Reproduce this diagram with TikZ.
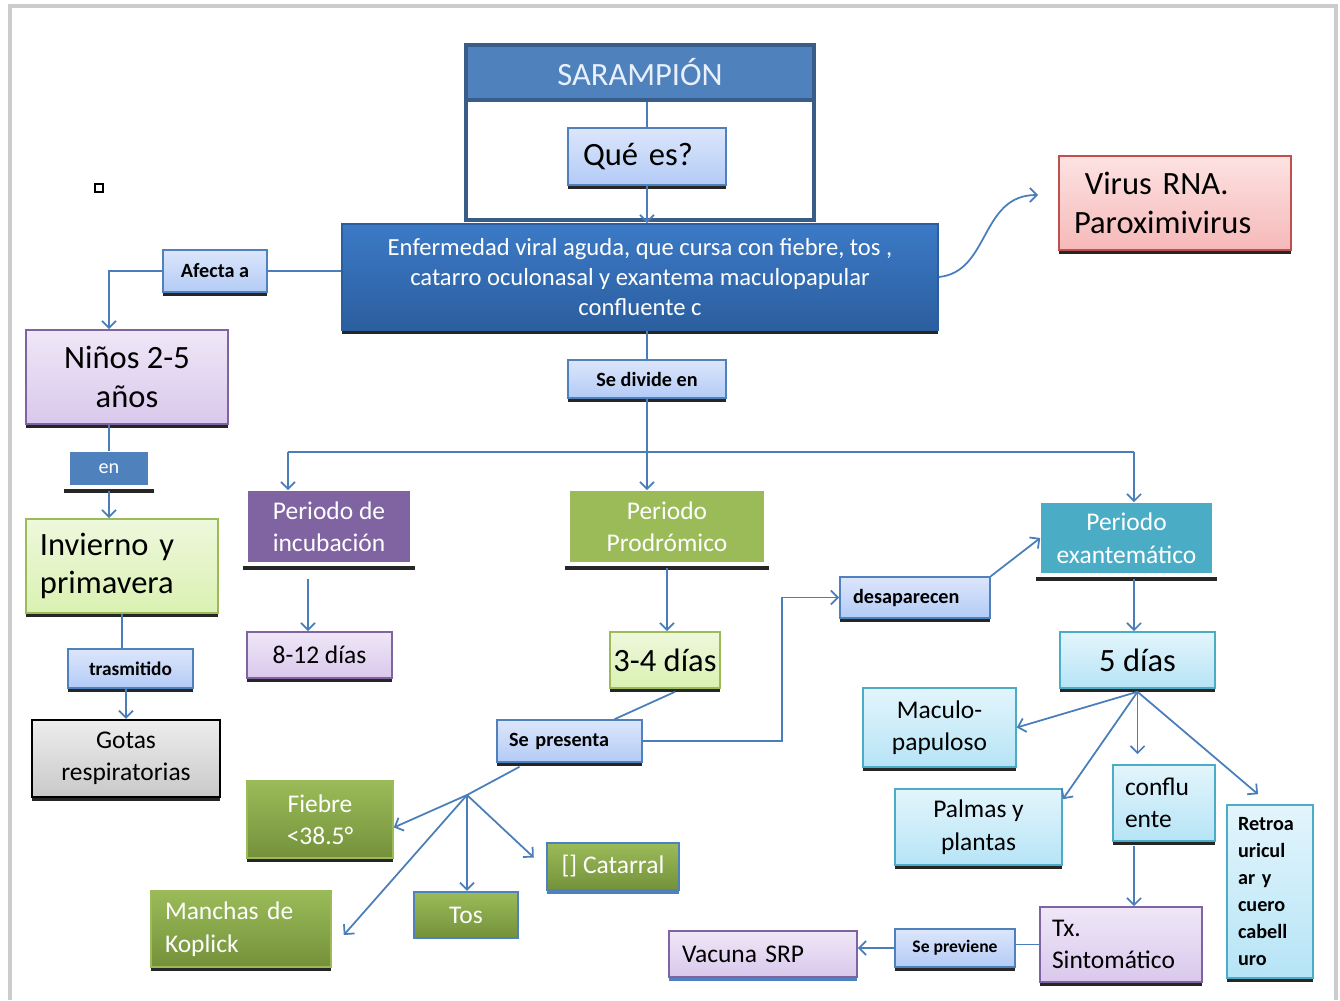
\documentclass[tikz,border=0pt]{standalone}
\usepackage{fontspec}
\setmainfont{Carlito}
\usetikzlibrary{arrows.meta, positioning, shadows, calc}

\definecolor{officeblue}{HTML}{4F81BD}
\definecolor{framebl}{HTML}{385D8A}
\definecolor{linkblue}{HTML}{4A7EBB}
\definecolor{sartext}{HTML}{E8F0FB}
\definecolor{enfT}{HTML}{3C7AC6}
\definecolor{enfB}{HTML}{2B5E9F}
\definecolor{pbT}{HTML}{DCE6FB}
\definecolor{pbB}{HTML}{B3CBF6}
\definecolor{purp}{HTML}{8064A2}
\definecolor{ppT}{HTML}{EFE7F7}
\definecolor{ppB}{HTML}{D9C8EC}
\definecolor{grn}{HTML}{9BBB59}
\definecolor{grnB}{HTML}{74913A}
\definecolor{pgT}{HTML}{EEF8DC}
\definecolor{pgB}{HTML}{DAF1B2}
\definecolor{aqua}{HTML}{4BACC6}
\definecolor{paT}{HTML}{E3F5FC}
\definecolor{paB}{HTML}{B6E4F6}
\definecolor{redd}{HTML}{C0504D}
\definecolor{pinkT}{HTML}{FDE2E2}
\definecolor{pinkB}{HTML}{F6B9B9}
\definecolor{grayT}{HTML}{EDEDED}
\definecolor{grayB}{HTML}{C9C9C9}

\begin{document}
\begin{tikzpicture}[
  x=0.2mm, y=-0.2mm,
  cbox/.style={rectangle, inner sep=0pt, align=center, line width=0.9pt},
  wh/.style 2 args={minimum width=#1, minimum height=#2},
  lft/.style 2 args={align=left, inner xsep=#1, text width=#2},
  sh/.style={drop shadow={shadow xshift=0mm, shadow yshift=-0.8mm, opacity=1, fill=black!85}},
  shb/.style={drop shadow={shadow xshift=0mm, shadow yshift=-0.8mm, opacity=1, fill=officeblue}},
  bigtxt/.style={font=\fontsize{18.5}{22}\selectfont},
  medtxt/.style={font=\fontsize{14.5}{18.5}\selectfont},
  smalltxt/.style={font=\fontsize{11.5}{13}\selectfont\bfseries},
  paleblue/.style={cbox, draw=officeblue, top color=pbT, bottom color=pbB, sh},
  palepurple/.style={cbox, draw=purp, top color=ppT, bottom color=ppB, sh},
  palegreen/.style={cbox, draw=grn, top color=pgT, bottom color=pgB, sh},
  paleaqua/.style={cbox, draw=aqua, top color=paT, bottom color=paB, sh},
  darkgreen/.style={cbox, draw=grn, top color=grn, bottom color=grnB, text=white},
  filled/.style={cbox, fill=#1, text=white},
  link/.style={linkblue, line width=1pt},
  arrow/.style={link, -{Straight Barb[length=1.4mm, width=2.8mm]}},
  shelf/.style={black!85, line width=2pt},
  pageedge/.style={black!20, line width=2pt},
]
\useasboundingbox (0,0) rectangle (1340,1000);

% page edge and stray mark
\draw[pageedge] (10,1000) -- (10,6) -- (1336,6) -- (1336,1000);
\draw[black, line width=0.6pt] (95,184) rectangle (103,192);

% title block
\node[cbox, draw=framebl, line width=1.8pt, fill=white, wh={69.6mm}{35mm}] (sarframe) at (640,132.5) {};
\node[filled=officeblue, draw=framebl, line width=1.8pt, text=sartext, bigtxt, wh={69.6mm}{11mm}] (sar) at (640,72.5) {SARAMPIÓN};
\node[paleblue, bigtxt, wh={31.6mm}{11.4mm}, lft={3mm}{25.6mm}] (que) at (647,156.5) {Qué es?};
\node[cbox, draw=enfB, top color=enfT, bottom color=enfB, text=white, sh,
      font=\fontsize{14}{17}\selectfont, wh={119.2mm}{21.2mm}] (enf) at (640,277)
  {Enfermedad viral aguda, que cursa con fiebre, tos ,\\ catarro oculonasal y exantema maculopapular\\ confluente c};
\node[cbox, draw=redd, top color=pinkT, bottom color=pinkB, sh, bigtxt, wh={46.4mm}{18.8mm}, lft={3mm}{40.4mm}] (virus) at (1175,203) {\ Virus RNA.\\Paroximivirus};
\coordinate (virtip) at (1038,195);

% left column
\node[paleblue, smalltxt, wh={20.8mm}{8.4mm}] (afecta) at (215,271) {Afecta a};
\node[palepurple, bigtxt, wh={40.4mm}{18.8mm}] (ninos) at (127,377) {Niños 2-5\\años};
\node[filled=officeblue, font=\fontsize{11.5}{13}\selectfont, wh={15.6mm}{6.6mm}] (en) at (109,468.5) {en};
\node[palegreen, bigtxt, wh={38.4mm}{18.8mm}, lft={2.8mm}{32.8mm}] (invierno) at (122,566) {Invierno y\\primavera};
\node[paleblue, font=\fontsize{11}{13}\selectfont\bfseries, wh={25mm}{7.8mm}] (trasm) at (130.5,668.5) {trasmitido};
\node[cbox, draw=black, line width=1.2pt, top color=grayT, bottom color=grayB, sh, medtxt, wh={37.6mm}{15.4mm}] (gotas) at (126,758.5) {Gotas\\respiratorias};

% periods
\node[paleblue, smalltxt, wh={31.6mm}{7.6mm}] (sediv) at (647,379) {Se divide en};
\coordinate (sl) at (288,452);
\coordinate (sr) at (1134,452);
\node[filled=purp, medtxt, wh={32.4mm}{14.2mm}] (pinc) at (329,526.5) {Periodo de\\incubación};
\node[palepurple, medtxt, wh={29mm}{9.2mm}] (d812) at (319.5,655) {8-12 días};
\node[filled=grn, medtxt, wh={38.8mm}{14.2mm}] (pprod) at (667,526.5) {Periodo\\Prodrómico};
\node[palegreen, bigtxt, wh={22mm}{11.2mm}] (d34) at (665,660) {3-4 días};
\node[filled=aqua, medtxt, wh={34.2mm}{14mm}] (pexan) at (1126.5,538) {Periodo\\exantemático};
\node[paleaqua, bigtxt, wh={31mm}{11.2mm}] (d5) at (1137.5,660) {5 días};

% prodromic signs
\node[paleblue, smalltxt, wh={29mm}{8.4mm}, lft={2.4mm}{24.2mm}] (sepres) at (569.5,741) {Se presenta};
\coordinate (hub1) at (467,795);
\node[darkgreen, sh, medtxt, wh={29.2mm}{15.4mm}] (fiebre) at (320,819.5) {Fiebre\\<38.5°};
\node[darkgreen, sh, medtxt, wh={36mm}{15.2mm}, lft={2.8mm}{30.4mm}] (manchas) at (241,929) {Manchas de\\Koplick};
\node[darkgreen, draw=officeblue, line width=1.4pt, medtxt, wh={20.8mm}{9.2mm}] (tos) at (466,915) {Tos};
\node[darkgreen, draw=officeblue, line width=1.4pt, shb, medtxt, wh={26.4mm}{9.4mm}] (catarral) at (613,866.5) {[] Catarral};
\node[paleblue, smalltxt, wh={30mm}{8.2mm}, lft={2.6mm}{24.8mm}] (desap) at (915,597.5) {desaparecen};

% exanthem
\coordinate (hub2) at ([yshift=-0.6mm]d5.south);
\node[paleaqua, medtxt, wh={30.6mm}{15.8mm}] (macul) at (939.5,727.5) {Maculo-\\papuloso};
\node[paleaqua, medtxt, wh={33.4mm}{15.2mm}] (palmas) at (978.5,827) {Palmas y\\plantas};
\node[paleaqua, medtxt, wh={20.4mm}{15.2mm}, lft={2.4mm}{15.6mm}] (conflu) at (1164,803) {conflu\\ente};
\node[paleaqua, font=\fontsize{11.5}{15.4}\selectfont\bfseries, wh={17.2mm}{34.6mm}, lft={2.2mm}{12.8mm}] (retro) at (1270,891.5) {Retroa\\uricul\\ar y\\cuero\\cabell\\uro};
\node[palepurple, medtxt, wh={32.4mm}{15mm}, lft={2.4mm}{27.6mm}] (tx) at (1121,944.5) {Tx.\\Sintomático};
\node[paleblue, font=\fontsize{10}{12}\selectfont\bfseries, wh={24mm}{7.6mm}] (seprev) at (955,948) {Se previene};
\node[cbox, draw=purp, top color=ppT, bottom color=ppB, shb, medtxt, wh={37.6mm}{9.2mm}, lft={2.6mm}{32.4mm}] (vacuna) at (763,954) {Vacuna SRP};

% shelves under header boxes
\draw[shelf] ([shift={(-5,5)}]en.south west) -- ([shift={(5,5)}]en.south east);
\draw[shelf] ([shift={(-4,5)}]pinc.south west) -- ([shift={(4,5)}]pinc.south east);
\draw[shelf] ([shift={(-4,5)}]pprod.south west) -- ([shift={(4,5)}]pprod.south east);
\draw[shelf] ([shift={(-4,5)}]pexan.south west) -- ([shift={(4,5)}]pexan.south east);

% connectors
\draw[link] (que.north |- sar.south) -- (que.north);
\draw[arrow] (que.south) -- (que.south |- enf.north);
\draw[link] (afecta.east) -- (afecta.east -| enf.west);
\draw[arrow] (afecta.west) -| (en.north |- ninos.north);
\draw[arrow] (enf.east) .. controls (990,272) and (980,195) .. (virtip);
\draw[link] (en.north |- ninos.south) -- (en.north);
\draw[arrow] ([yshift=-1mm]en.south) -- (en.south |- invierno.north);
\draw[link] (invierno.south) -- (invierno.south |- trasm.north);
\draw[arrow] (gotas.north |- trasm.south) -- (gotas.north);

\draw[link] (sl) -- (sr);
\draw[link] (sediv.north |- enf.south) -- (sediv.north);
\draw[arrow] (sediv.south) -- (sediv.south |- pprod.north);
\draw[arrow] (sl) -- (sl |- pinc.north);
\draw[arrow] (sr) -- (sr |- pexan.north);

\draw[arrow] ([xshift=-4.2mm, yshift=-3.2mm]pinc.south) -- ([xshift=-4.2mm]pinc.south |- d812.north);
\draw[arrow] ([yshift=-1mm]pprod.south) -- (pprod.south |- d34.north);
\draw[arrow] ([xshift=1.5mm, yshift=-1mm]pexan.south) -- ([xshift=1.5mm]pexan.south |- d5.north);

\draw[link] ([xshift=2mm, yshift=-0.6mm]d34.south) -- ([xshift=9mm]sepres.north);
\draw[arrow] (sepres.east) -- ++(139,0) |- (desap.west);
\draw[arrow] (desap.north east) -- (pexan.west);
\draw[link] ([xshift=-10mm, yshift=-0.8mm]sepres.south) -- (hub1);
\draw[arrow] (hub1) -- ([yshift=-1.6mm]fiebre.east);
\draw[arrow] (hub1) -- ([xshift=2.4mm, yshift=-1.2mm]manchas.east);
\draw[arrow] (hub1) -- (hub1 |- tos.north);
\draw[arrow] (hub1) -- ([xshift=-2.4mm, yshift=1.8mm]catarral.west);

\draw[arrow] (hub2) -- (macul.east);
\draw[arrow] (hub2) -- ([yshift=-2.2mm]palmas.north east);
\draw[arrow] (hub2) -- ([yshift=2mm]hub2 |- conflu.north);
\draw[arrow] (hub2) -- ([xshift=-2.4mm, yshift=2mm]retro.north);
\draw[arrow] ([xshift=-6mm, yshift=-0.8mm]conflu.south) -- ([xshift=-6mm]conflu.south |- tx.north);
\draw[link] (tx.west) -- (tx.west -| seprev.east);
\draw[arrow] (seprev.west) -- (seprev.west -| vacuna.east);

\end{tikzpicture}
\end{document}
